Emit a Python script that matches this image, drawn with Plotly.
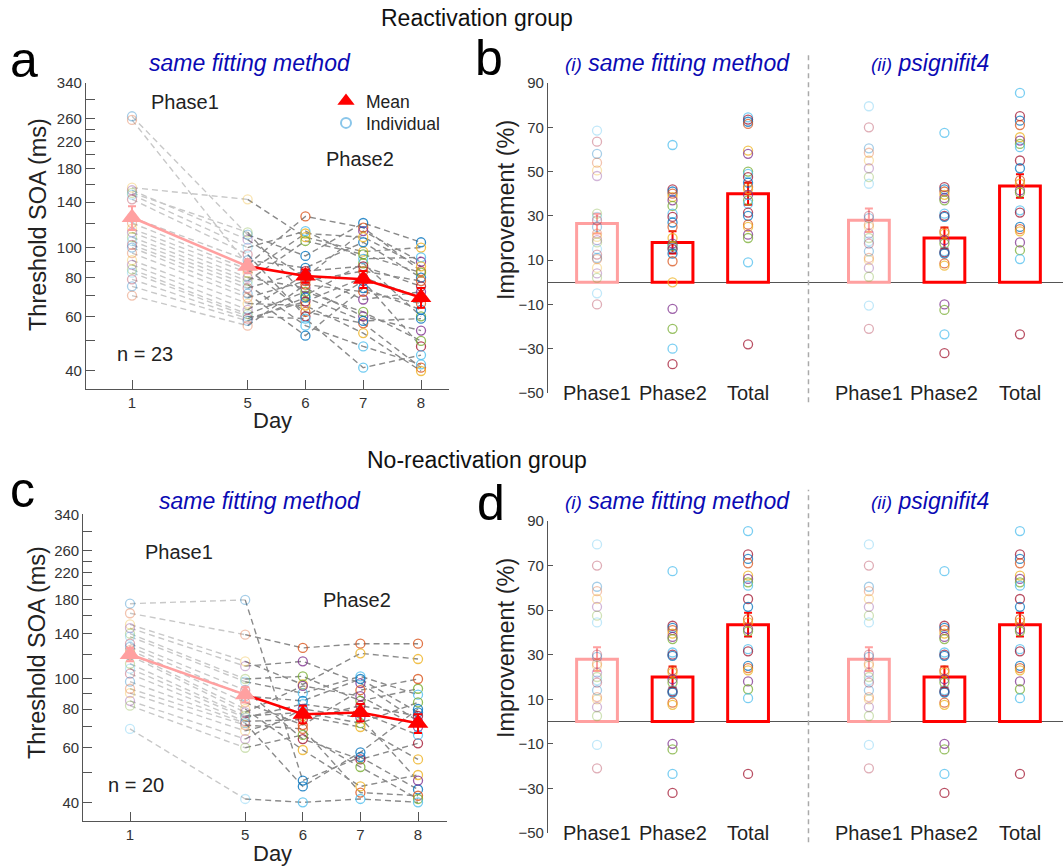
import math
import plotly.graph_objects as go

W, H = 1063, 866
FONT = "Arial, 'Liberation Sans', Helvetica, sans-serif"

# ---------------- data ----------------
days = [1, 5, 6, 7, 8]
day_pos = [1, 3, 4, 5, 6]          # axis positions of the plotted days

soa_ticks = [40, 50, 60, 70, 80, 90, 100, 120, 140, 160, 180, 200, 220, 240, 260, 300, 340]
soa_labeled = [40, 60, 80, 100, 140, 180, 220, 260, 340]

# Reactivation group (n = 23), threshold SOA (ms) per individual
react_d1 = [265, 258, 156, 153, 150, 148, 143, 125, 120, 115, 112, 108, 105, 102, 100, 96, 91, 88, 85, 83, 79, 75, 70]
react_d5 = [110, 88, 143, 106, 112, 100, 95, 91, 85, 83, 80, 78, 76, 74, 71, 69, 66, 63, 61, 60, 59, 58, 56]
react_d6 = [94, 126, 108, 80, 70, 113, 60, 86, 62, 111, 74, 105, 56, 84, 52, 78, 65, 82, 72, 59, 67, 69, 76]
react_d7 = [120, 116, 97, 113, 89, 92, 78, 104, 57, 108, 60, 95, 48, 87, 74, 84, 53, 68, 62, 41, 80, 58, 72]
react_d8 = [104, 84, 100, 90, 60, 93, 48, 80, 41, 87, 54, 83, 42, 75, 63, 78, 40, 72, 50, 45, 69, 59, 66]
react_mean = [125, 87, 81, 79, 69]
react_sem = [11, 4, 4, 5, 5]

# No-reactivation group (n = 20)
noreact_d1 = [175, 163, 150, 146, 140, 137, 130, 127, 124, 121, 119, 112, 108, 104, 98, 93, 90, 85, 82, 69]
noreact_d5 = [180, 139, 114, 110, 100, 98, 92, 88, 84, 80, 78, 76, 75, 73, 72, 71, 68, 64, 60, 41]
noreact_d6 = [47, 126, 96, 114, 102, 90, 64, 85, 71, 59, 95, 78, 83, 74, 45, 69, 76, 80, 66, 40]
noreact_d7 = [56, 130, 121, 97, 85, 102, 55, 100, 92, 45, 88, 72, 78, 82, 58, 43, 70, 75, 52, 41]
noreact_d8 = [44, 130, 116, 73, 93, 89, 62, 78, 100, 49, 70, 84, 66, 76, 80, 42, 55, 47, 41, 40]
noreact_mean = [120, 89, 77, 78, 72]
noreact_sem = [6, 5, 5, 5, 5]

phases = ["Phase1", "Phase2", "Total"]
improve_ticks = [-50, -30, -10, 10, 30, 50, 70, 90]

# Improvement (%) - reactivation, same fitting method
b_same_p1 = [68.5, 63.5, 58, 54, 50.5, 48, 31, 29.5, 28, 25, 22, 20.5, 19, 18, 15, 12.5, 11, 10.5, 6.5, 4, 2, -5, -10]
b_same_p2 = [62, 42, 41, 40, 38.5, 37, 34.5, 31, 29.5, 27, 25, 20, 17.5, 16.5, 15.5, 15, 13, 9.5, 0, -12, -21, -30, -37]
b_same_tot = [74.5, 73.5, 72.5, 71.5, 59.5, 58, 50, 49, 47.5, 45, 43, 42, 39.5, 37, 35.5, 31.5, 30, 26, 25, 21.5, 20, 9, -28]
b_same_mean = [26.5, 18, 40]
b_same_sem = [4.5, 5, 5]
# reactivation, psignifit4
b_psig_p1 = [79.5, 70, 60.5, 58.5, 55, 51.5, 47.5, 44.5, 30, 29, 26, 25, 22, 20, 18.5, 17.5, 14, 11, 10, 6.5, 2.5, -10.5, -21]
b_psig_p2 = [67.5, 43, 42, 41, 39.5, 38, 37, 31, 30, 29.5, 23, 22, 19, 17.5, 14, 13.5, 13, 8.5, 7.5, -10, -12.5, -23.5, -32]
b_psig_tot = [85.5, 75, 73, 71, 65.5, 64, 62.5, 61, 55, 51.5, 46, 44.5, 41.5, 40.5, 32.5, 31.5, 25, 24, 23, 18, 14.5, 10.5, -23.5]
b_psig_mean = [28, 20, 43.5]
b_psig_sem = [5.3, 4.7, 5.3]
# no-reactivation, same fitting method
d_same_p1 = [79.5, 70, 60.5, 58.5, 55, 51.5, 47.5, 44.5, 30, 29, 26, 25, 22, 20, 18.5, 17.5, 14, 11, 10, 6.5, 2.5, -10.5, -21]
d_same_p2 = [67.5, 43, 42, 41, 39.5, 38, 37, 31, 30, 29.5, 23, 22, 19, 17.5, 14, 13.5, 13, 8.5, 7.5, -10, -12.5, -23.5, -32]
d_same_tot = [85.5, 75, 73, 71, 65.5, 64, 62.5, 61, 55, 51.5, 46, 44.5, 41.5, 40.5, 32.5, 31.5, 25, 24, 23, 18, 14.5, 10.5, -23.5]
d_same_mean = [28, 20, 43.5]
d_same_sem = [5.3, 4.7, 5.3]
# no-reactivation, psignifit4
d_psig_p1 = [79.5, 70, 60.5, 58.5, 55, 51.5, 47.5, 44.5, 30, 29, 26, 25, 22, 20, 18.5, 17.5, 14, 11, 10, 6.5, 2.5, -10.5, -21]
d_psig_p2 = [67.5, 43, 42, 41, 39.5, 38, 37, 31, 30, 29.5, 23, 22, 19, 17.5, 14, 13.5, 13, 8.5, 7.5, -10, -12.5, -23.5, -32]
d_psig_tot = [85.5, 75, 73, 71, 65.5, 64, 62.5, 61, 55, 51.5, 46, 44.5, 41.5, 40.5, 32.5, 31.5, 25, 24, 23, 18, 14.5, 10.5, -23.5]
d_psig_mean = [28, 20, 43.5]
d_psig_sem = [5.3, 4.7, 5.3]

# ---------------- style ----------------
palette = ["#0072BD", "#D95319", "#EDB120", "#7E2F8E", "#77AC30", "#4DBEEE", "#A2142F"]
PINK = "#FFA0A0"
RED = "#FF0000"
BLUE_T = "#0a0ab4"
pos_i = [1, 2, 3]
pos_ii = [4.6, 5.6, 6.6]
SEP = 3.8


def px(x):
    return x / W


def py(y):
    return 1 - y / H


fig = go.Figure()


def soa_panel(cols, mean, sem, xa, ya):
    n = len(cols[0])
    xs, ys = [], []
    for i in range(n):
        xs += [day_pos[0], day_pos[1], None]
        ys += [cols[0][i], cols[1][i], None]
    fig.add_trace(go.Scatter(x=xs, y=ys, mode="lines", xaxis=xa, yaxis=ya, showlegend=False,
                             line=dict(color="#c8c8c8", width=1.4, dash="6px,4px"), hoverinfo="skip"))
    xs, ys = [], []
    for i in range(n):
        xs += day_pos[1:] + [None]
        ys += [cols[1][i], cols[2][i], cols[3][i], cols[4][i], None]
    fig.add_trace(go.Scatter(x=xs, y=ys, mode="lines", xaxis=xa, yaxis=ya, showlegend=False,
                             line=dict(color="#8a8a8a", width=1.4, dash="6px,4px"), hoverinfo="skip"))
    mx, my, mc, mo = [], [], [], []
    for j in range(5):
        for i in range(n):
            mx.append(day_pos[j])
            my.append(cols[j][i])
            mc.append(palette[i % len(palette)])
            mo.append(0.35 if j < 2 else 0.8)
    fig.add_trace(go.Scatter(x=mx, y=my, mode="markers", xaxis=xa, yaxis=ya, showlegend=False,
                             marker=dict(symbol="circle-open", size=9, color=mc, opacity=mo,
                                         line=dict(width=1.3))))
    fig.add_trace(go.Scatter(x=day_pos[1:], y=mean[1:], mode="lines", xaxis=xa, yaxis=ya,
                             showlegend=False, line=dict(color=RED, width=2.5)))
    fig.add_trace(go.Scatter(x=day_pos[:2], y=mean[:2], mode="lines+markers", xaxis=xa, yaxis=ya,
                             showlegend=False, line=dict(color=PINK, width=2.5),
                             marker=dict(symbol="triangle-up", size=18, color=PINK),
                             error_y=dict(type="data", array=sem[:2], color=PINK, thickness=2, width=4)))
    fig.add_trace(go.Scatter(x=day_pos[2:], y=mean[2:], mode="markers", xaxis=xa, yaxis=ya,
                             showlegend=False,
                             marker=dict(symbol="triangle-up", size=18, color=RED),
                             error_y=dict(type="data", array=sem[2:], color=RED, thickness=2, width=4)))


def bar_group(positions, groups, mean, sem, xa, ya):
    for k, vals in enumerate(groups):
        n = len(vals)
        fig.add_trace(go.Scatter(x=[positions[k]] * n, y=vals, mode="markers", xaxis=xa, yaxis=ya,
                                 showlegend=False,
                                 marker=dict(symbol="circle-open", size=9,
                                             color=[palette[(i + 5) % len(palette)] for i in range(n)],
                                             opacity=0.35 if k == 0 else 0.75,
                                             line=dict(width=1.3))))
    fig.add_trace(go.Bar(x=[positions[0]], y=[mean[0]], width=0.54, xaxis=xa, yaxis=ya, showlegend=False,
                         marker=dict(color="rgba(0,0,0,0)", line=dict(color=PINK, width=3)),
                         error_y=dict(type="data", array=[sem[0]], color=PINK, thickness=2, width=4)))
    fig.add_trace(go.Bar(x=positions[1:], y=mean[1:], width=0.54, xaxis=xa, yaxis=ya, showlegend=False,
                         marker=dict(color="rgba(0,0,0,0)", line=dict(color=RED, width=3)),
                         error_y=dict(type="data", array=sem[1:], color=RED, thickness=2, width=4)))


soa_panel([react_d1, react_d5, react_d6, react_d7, react_d8], react_mean, react_sem, "x", "y")
soa_panel([noreact_d1, noreact_d5, noreact_d6, noreact_d7, noreact_d8], noreact_mean, noreact_sem, "x3", "y3")

bar_group(pos_i, [b_same_p1, b_same_p2, b_same_tot], b_same_mean, b_same_sem, "x2", "y2")
bar_group(pos_ii, [b_psig_p1, b_psig_p2, b_psig_tot], b_psig_mean, b_psig_sem, "x2", "y2")
bar_group(pos_i, [d_same_p1, d_same_p2, d_same_tot], d_same_mean, d_same_sem, "x4", "y4")
bar_group(pos_ii, [d_psig_p1, d_psig_p2, d_psig_tot], d_psig_mean, d_psig_sem, "x4", "y4")

# legend entries (one legend box per entry for exact placement)
fig.add_trace(go.Scatter(x=[None], y=[None], mode="markers", name="Mean", xaxis="x", yaxis="y",
                         legend="legend",
                         marker=dict(symbol="triangle-up", size=15, color=RED)))
fig.add_trace(go.Scatter(x=[None], y=[None], mode="markers", name="Individual", xaxis="x", yaxis="y",
                         legend="legend2",
                         marker=dict(symbol="circle-open", size=10, color="#8ac6ea", line=dict(width=2))))

axis_line = dict(showline=True, linecolor="#555", linewidth=1.2, ticks="inside", tickcolor="#555",
                 showgrid=False, zeroline=False, automargin=False,
                 tickfont=dict(size=15, color="#333", family=FONT))

soa_ticktext = [str(v) if v in soa_labeled else "" for v in soa_ticks]
day_ticktext = [str(d) for d in days]

leg_common = dict(xanchor="left", yanchor="middle", bgcolor="rgba(0,0,0,0)",
                  font=dict(size=17.5, color="#222", family=FONT), itemwidth=30)

fig.update_layout(
    width=W, height=H, margin=dict(l=0, r=0, t=0, b=0, pad=0, autoexpand=False),
    paper_bgcolor="white", plot_bgcolor="white",
    font=dict(family=FONT, color="#222"),
    barmode="overlay",
    showlegend=True,
    legend=dict(x=px(326), y=py(101), **leg_common),
    legend2=dict(x=px(326), y=py(123), **leg_common),
    xaxis=dict(domain=[px(86), px(449)], range=[0.204, 6.484], anchor="y", tickvals=day_pos,
               ticktext=day_ticktext, ticklen=9, **axis_line),
    yaxis=dict(domain=[py(389), py(82.7)], type="log", range=[1.544, math.log10(340)], anchor="x",
               tickvals=soa_ticks, ticktext=soa_ticktext, ticklen=9, **axis_line),
    xaxis3=dict(domain=[px(83.3), px(446.7)], range=[0.189, 6.498], anchor="y3", tickvals=day_pos,
                ticktext=day_ticktext, ticklen=9, **axis_line),
    yaxis3=dict(domain=[py(820.7), py(514.3)], type="log", range=[1.5427, math.log10(340)], anchor="x3",
                tickvals=soa_ticks, ticktext=soa_ticktext, ticklen=9, **axis_line),
    xaxis2=dict(domain=[px(548), 1.0], range=[0.351, 7.17], anchor="y2", visible=False, automargin=False),
    yaxis2=dict(domain=[py(393), py(83)], range=[-50, 90], anchor="x2", tickvals=improve_ticks,
                ticklen=5, **{**axis_line, "zeroline": True}, zerolinecolor="#555", zerolinewidth=1.2),
    xaxis4=dict(domain=[px(548), 1.0], range=[0.351, 7.17], anchor="y4", visible=False, automargin=False),
    yaxis4=dict(domain=[py(833), py(521)], range=[-50, 90], anchor="x4", tickvals=improve_ticks,
                ticklen=5, **{**axis_line, "zeroline": True}, zerolinecolor="#555", zerolinewidth=1.2),
)

# separators
for xa, ya in [("x2", "y2"), ("x4", "y4")]:
    fig.add_shape(type="line", xref=xa, yref=f"{ya} domain", x0=SEP, x1=SEP, y0=-0.03, y1=1.1,
                  line=dict(color="#aaaaaa", width=1.5, dash="5px,4px"))

ann = []


def text(x, y, s, size, color="#222", **kw):
    ann.append(dict(x=px(x), y=py(y), xref="paper", yref="paper", text=s, showarrow=False,
                    font=dict(size=size, color=color, family=FONT), xanchor="center", yanchor="middle", **kw))


text(477, 18, "Reactivation group", 23, "#111")
text(477, 460, "No-reactivation group", 23, "#111")
text(24, 60, "a", 50, "#000")
text(489, 58, "b", 50, "#000")
text(22, 490, "c", 50, "#000")
text(491, 503, "d", 50, "#000")

text(250, 63, "<i>same fitting method</i>", 23, BLUE_T)
text(260, 501, "<i>same fitting method</i>", 23, BLUE_T)
sub_i = "<i><span style='font-size:19px'>(i)</span> same fitting method</i>"
sub_ii = "<i><span style='font-size:19px'>(ii)</span> psignifit4</i>"
text(677, 63, sub_i, 23, BLUE_T)
text(930, 63, sub_ii, 23, BLUE_T)
text(677, 501, sub_i, 23, BLUE_T)
text(930, 501, sub_ii, 23, BLUE_T)

text(38, 225, "Threshold SOA (ms)", 23.5, "#222", textangle=-90)
text(37, 653, "Threshold SOA (ms)", 23.5, "#222", textangle=-90)
text(272, 420, "Day", 22, "#222")
text(272, 853, "Day", 22, "#222")
text(506, 210, "Improvement (%)", 23.5, "#222", textangle=-90)
text(506, 648, "Improvement (%)", 23.5, "#222", textangle=-90)

text(185, 102, "Phase1", 20)
text(360, 159, "Phase2", 20)
text(145, 354, "n = 23", 20)
text(179, 552, "Phase1", 20)
text(357, 600, "Phase2", 20)
text(136, 785, "n = 20", 20)

for xa, ya in [("x2", "y2"), ("x4", "y4")]:
    for positions in (pos_i, pos_ii):
        for p, lab in zip(positions, phases):
            ann.append(dict(x=p, y=-50, xref=xa, yref=ya, text=lab, showarrow=False,
                            font=dict(size=20, color="#222", family=FONT),
                            xanchor="center", yanchor="middle"))

fig.update_layout(annotations=ann)
fig.write_html("out.html", config={"displayModeBar": False},
               post_script="document.body.style.margin='0px';")
